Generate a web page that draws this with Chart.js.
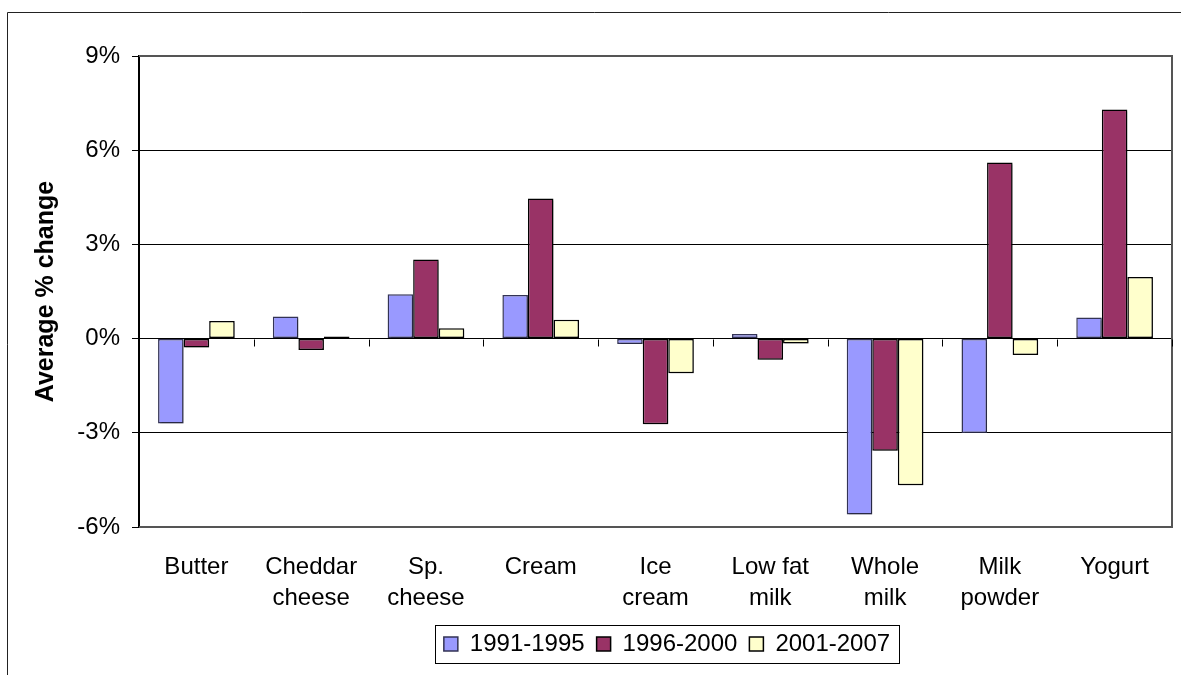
<!DOCTYPE html>
<html>
<head>
<meta charset="utf-8">
<title>Average % change by dairy product</title>
<script src="https://cdn.jsdelivr.net/npm/chart.js@4"></script>
<style>
  html, body { margin: 0; padding: 0; background: #ffffff; }
  canvas { display: block; }
</style>
</head>
<body>
<canvas id="chart" width="1181" height="675"></canvas>
<script>
// Product categories (multi-line axis labels)
const categories = [
  ["Butter"],
  ["Cheddar", "cheese"],
  ["Sp.", "cheese"],
  ["Cream"],
  ["Ice", "cream"],
  ["Low fat", "milk"],
  ["Whole", "milk"],
  ["Milk", "powder"],
  ["Yogurt"]
];

// Average annual % change per period
const period1991_1995 = [-2.70, 0.70, 1.41, 1.39, -0.17, 0.15, -5.60, -3.01, 0.67];
const period1996_2000 = [-0.28, -0.36, 2.52, 4.46, -2.73, -0.67, -3.57, 5.61, 7.30];
const period2001_2007 = [0.56, 0.07, 0.33, 0.60, -1.10, -0.16, -4.67, -0.52, 1.96];

const seriesNames = ["1991-1995", "1996-2000", "2001-2007"];

// Value axis tick values
const yTicks = [-6, -3, 0, 3, 6, 9];

const FONT = "'Liberation Sans', Arial, Helvetica, sans-serif";

// Outer chart frame, plot-area frame, zero-line ticks and legend box
const framePlugin = {
  id: 'frames',
  beforeDraw(chart) {
    const ctx = chart.ctx;
    ctx.save();
    ctx.fillStyle = '#ffffff';
    ctx.fillRect(0, 0, chart.width, chart.height);
    ctx.strokeStyle = '#222222';
    ctx.lineWidth = 1;
    ctx.beginPath();
    ctx.moveTo(7.5, chart.height + 5);
    ctx.lineTo(7.5, 12.5);
    ctx.lineTo(chart.width + 5, 12.5);
    ctx.stroke();
    ctx.restore();
  },
  beforeDatasetsDraw(chart) {
    const ctx = chart.ctx;
    ctx.save();
    ctx.shadowColor = 'rgba(0,0,0,0.2)';
    ctx.shadowOffsetX = 2;
    ctx.shadowOffsetY = 2;
    ctx.shadowBlur = 0;
  },
  afterDatasetsDraw(chart) {
    const ctx = chart.ctx;
    ctx.restore();
    const a = chart.chartArea;
    ctx.save();
    // plot area outline (top, right, bottom)
    ctx.strokeStyle = '#555555';
    ctx.lineWidth = 2;
    ctx.beginPath();
    ctx.moveTo(a.left, a.top);
    ctx.lineTo(a.right, a.top);
    ctx.lineTo(a.right, a.bottom);
    ctx.lineTo(a.left, a.bottom);
    ctx.stroke();
    // category tick marks hanging from the zero line
    const xs = chart.scales.x;
    const ys = chart.scales.y;
    const y0 = Math.round(ys.getPixelForValue(0)) + 0.5;
    const step = xs.getPixelForValue(1) - xs.getPixelForValue(0);
    const start = xs.getPixelForValue(0) - step / 2;
    ctx.strokeStyle = '#000000';
    ctx.lineWidth = 1;
    ctx.beginPath();
    for (let i = 1; i <= categories.length; i++) {
      const x = Math.round(start + i * step) + 0.5;
      ctx.moveTo(x, y0);
      ctx.lineTo(x, y0 + 7);
    }
    ctx.stroke();
    ctx.restore();
  },
  afterLayout(chart) {
    // centre the legend under the plot
    const lg = chart.legend;
    if (!lg) return;
    const target = 667;
    const dx = target - (lg.left + lg.right) / 2;
    lg.left += dx;
    lg.right += dx;
  },
  afterDraw(chart) {
    const lg = chart.legend;
    if (!lg || !lg.legendHitBoxes || !lg.legendHitBoxes.length) return;
    const boxes = lg.legendHitBoxes;
    let l = Infinity, r = -Infinity, t = Infinity, b = -Infinity;
    boxes.forEach(h => {
      l = Math.min(l, h.left);
      r = Math.max(r, h.left + h.width);
      t = Math.min(t, h.top);
      b = Math.max(b, h.top + h.height);
    });
    const ctx = chart.ctx;
    ctx.save();
    ctx.strokeStyle = '#000000';
    ctx.lineWidth = 1;
    ctx.strokeRect(Math.round(l - 9) + 0.5, Math.round(t - 7) + 0.5,
                   Math.round(r - l + 18), Math.round(b - t + 14));
    ctx.restore();
  }
};

new Chart(document.getElementById('chart'), {
  type: 'bar',
  data: {
    labels: categories,
    datasets: [
      { label: seriesNames[0], data: period1991_1995, backgroundColor: '#9999FF', borderColor: '#333355', borderWidth: 1.5, borderSkipped: false },
      { label: seriesNames[1], data: period1996_2000, backgroundColor: '#993366', borderColor: '#000000', borderWidth: 1.5, borderSkipped: false },
      { label: seriesNames[2], data: period2001_2007, backgroundColor: '#FFFFCC', borderColor: '#000000', borderWidth: 1.5, borderSkipped: false }
    ]
  },
  options: {
    responsive: false,
    animation: false,
    devicePixelRatio: 1,
    layout: { padding: { top: 56, right: 9, left: 0, bottom: 9 } },
    datasets: {
      bar: { categoryPercentage: 0.668, barPercentage: 1.0 }
    },
    plugins: {
      tooltip: { enabled: false },
      legend: {
        position: 'bottom',
        labels: {
          boxWidth: 14,
          boxHeight: 14,
          padding: 12,
          color: '#000000',
          font: { family: FONT, size: 24 }
        }
      }
    },
    scales: {
      x: {
        grid: { display: false },
        border: { display: false },
        ticks: {
          color: '#000000',
          autoSkip: false,
          maxRotation: 0,
          padding: 17,
          font: { family: FONT, size: 24, lineHeight: 1.3 }
        },
        afterFit(scale) { scale.height = 93; }
      },
      y: {
        min: -6,
        max: 9,
        afterBuildTicks(scale) { scale.ticks = yTicks.map(v => ({ value: v })); },
        grid: { color: '#000000', lineWidth: 1, tickLength: 7, tickColor: '#000000', tickWidth: 1 },
        border: { display: true, color: '#000000', width: 2 },
        ticks: {
          color: '#000000',
          padding: 12,
          font: { family: FONT, size: 24 },
          callback: v => v + '%'
        },
        title: {
          display: true,
          text: 'Average % change',
          color: '#000000',
          font: { family: FONT, size: 25, weight: 'bold' },
          padding: { top: 31, bottom: 0 }
        },
        afterFit(scale) { scale.width = 139; }
      }
    }
  },
  plugins: [framePlugin]
});
</script>
</body>
</html>
